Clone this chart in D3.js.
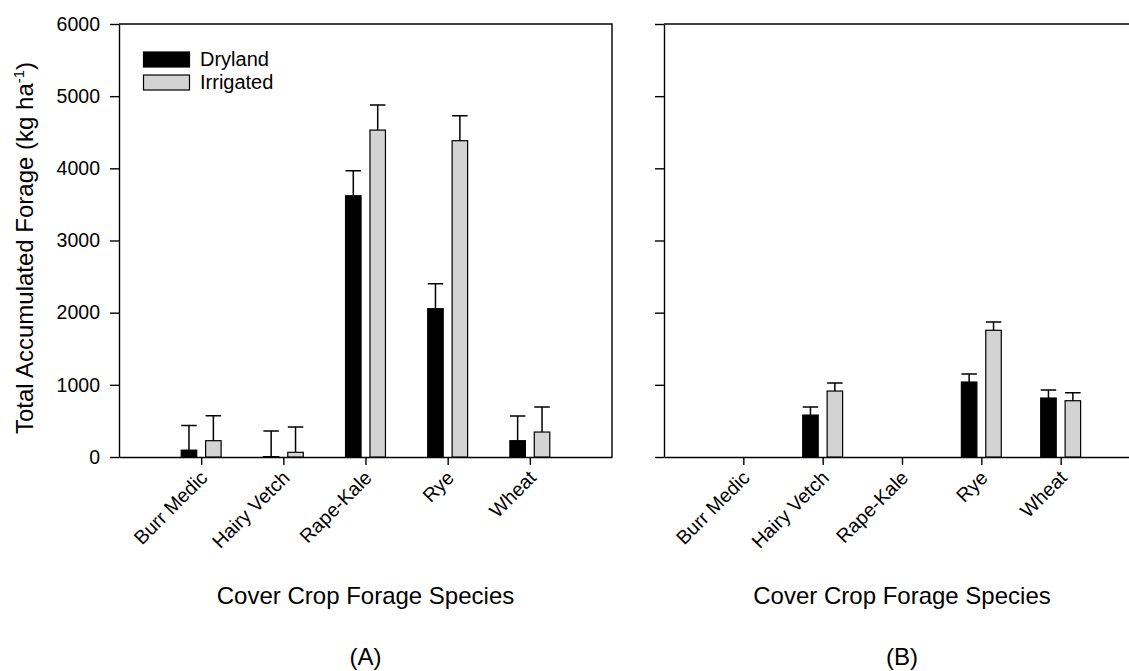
<!DOCTYPE html>
<html>
<head>
<meta charset="utf-8">
<script src="https://cdn.jsdelivr.net/npm/d3@7"></script>
<style>
  body { margin: 0; background: #fff; }
  text { font-family: "Liberation Sans", Arial, sans-serif; fill: #000; }
</style>
</head>
<body>
<div id="container"></div>
<script>
// Chart size
const width = 1129;
const height = 671;

// Data
const categories = ["Burr Medic", "Hairy Vetch", "Rape-Kale", "Rye", "Wheat"];
const seriesNames = ["Dryland", "Irrigated"];
const seriesColors = ["#000000", "#d3d3d3"];

// Panel A
const dryA = [95, 5, 3620, 2055, 226];
const dryAErr = [340, 355, 347, 346, 342];
const irrA = [226, 65, 4530, 4383, 346];
const irrAErr = [346, 351, 347, 347, 347];

// Panel B (no data for Burr Medic and Rape-Kale)
const dryB = [null, 581, null, 1039, 817];
const dryBErr = [null, 111, null, 111, 110];
const irrB = [null, 914, null, 1756, 780];
const irrBErr = [null, 111, null, 114, 111];

const yTicks = [0, 1000, 2000, 3000, 4000, 5000, 6000];
const panelLabels = ["(A)", "(B)"];
const xTitle = "Cover Crop Forage Species";

const svg = d3.select('#container')
    .append('svg')
    .attr('width', width)
    .attr('height', height);

// Shared vertical scale
const y = d3.scaleLinear().domain([0, 6000]).range([457, 24]);

const barW = 15.5;
const offset = 12.2;

function drawPanel(left, right, dry, dryErr, irr, irrErr, showLabels, label) {
  const g = svg.append('g');

  const x = d3.scalePoint()
      .domain(categories)
      .range([left, right])
      .padding(1);

  // frame (top and right lines)
  g.append('path')
      .attr('d', `M${left},${y(6000)}H${right}V${y(0)}`)
      .attr('fill', 'none')
      .attr('stroke', '#000')
      .attr('stroke-width', 1.4);

  // y axis
  const yAxis = g.append('g')
      .attr('transform', `translate(${left},0)`)
      .call(d3.axisLeft(y).tickValues(yTicks).tickSize(9).tickSizeOuter(0)
        .tickFormat(showLabels ? d3.format('d') : ''));
  yAxis.select('.domain').attr('stroke-width', 1.4);
  yAxis.selectAll('.tick line').attr('stroke-width', 1.4);
  yAxis.selectAll('.tick text')
      .attr('x', -19)
      .attr('font-size', '19.5px')
      .style('font-family', '"Liberation Sans", Arial, sans-serif');

  // x axis
  const xAxis = g.append('g')
      .attr('transform', `translate(0,${y(0)})`)
      .call(d3.axisBottom(x).tickSize(8).tickSizeOuter(0));
  xAxis.select('.domain').attr('stroke-width', 1.4);
  xAxis.selectAll('.tick line').attr('stroke-width', 1.4);
  xAxis.selectAll('.tick text')
      .attr('x', 0).attr('y', 0).attr('dy', 0)
      .attr('text-anchor', 'end')
      .attr('transform', 'translate(7,22) rotate(-45)')
      .attr('font-size', '19.5px')
      .style('font-family', '"Liberation Sans", Arial, sans-serif');

  // bars
  const groups = [
    { vals: dry, errs: dryErr, dx: -offset, color: seriesColors[0] },
    { vals: irr, errs: irrErr, dx: offset, color: seriesColors[1] }
  ];

  groups.forEach(s => {
    const data = categories.map((c, i) => ({ c, v: s.vals[i], e: s.errs[i] }))
        .filter(d => d.v !== null);

    // error bars (upper only)
    g.selectAll(null)
        .data(data)
        .enter().append('path')
        .attr('d', d => {
          const cx = x(d.c) + s.dx;
          return `M${cx},${y(d.v)}V${y(d.v + d.e)}M${cx - barW / 2},${y(d.v + d.e)}H${cx + barW / 2}`;
        })
        .attr('fill', 'none')
        .attr('stroke', '#000')
        .attr('stroke-width', 1.5);

    g.selectAll(null)
        .data(data)
        .enter().append('rect')
        .attr('x', d => x(d.c) + s.dx - barW / 2)
        .attr('y', d => y(d.v))
        .attr('width', barW)
        .attr('height', d => y(0) - y(d.v))
        .attr('fill', s.color)
        .attr('stroke', '#000')
        .attr('stroke-width', 1.2);
  });

  // x title and panel label
  const cx = (left + right) / 2;
  g.append('text')
      .attr('x', cx).attr('y', 604)
      .attr('text-anchor', 'middle')
      .attr('font-size', '24px')
      .text(xTitle);
  g.append('text')
      .attr('x', cx).attr('y', 665)
      .attr('text-anchor', 'middle')
      .attr('font-size', '24px')
      .text(label);
}

drawPanel(119, 612, dryA, dryAErr, irrA, irrAErr, true, panelLabels[0]);
drawPanel(664, 1140, dryB, dryBErr, irrB, irrBErr, false, panelLabels[1]);

// y axis title
const yTitle = svg.append('text')
    .attr('transform', 'translate(33,248) rotate(-90)')
    .attr('text-anchor', 'middle')
    .attr('font-size', '24px');
yTitle.append('tspan').text('Total Accumulated Forage (kg ha');
yTitle.append('tspan').attr('font-size', '15px').attr('dy', -9).text('-1');
yTitle.append('tspan').attr('dy', 9).text(')');

// legend
const legend = svg.append('g');
seriesNames.forEach((name, i) => {
  legend.append('rect')
      .attr('x', 143.5).attr('y', 52 + i * 23)
      .attr('width', 46).attr('height', 15)
      .attr('fill', seriesColors[i])
      .attr('stroke', '#000')
      .attr('stroke-width', 1.2);
  legend.append('text')
      .attr('x', 200).attr('y', 65.5 + i * 23)
      .attr('font-size', '20px')
      .text(name);
});
</script>
</body>
</html>
